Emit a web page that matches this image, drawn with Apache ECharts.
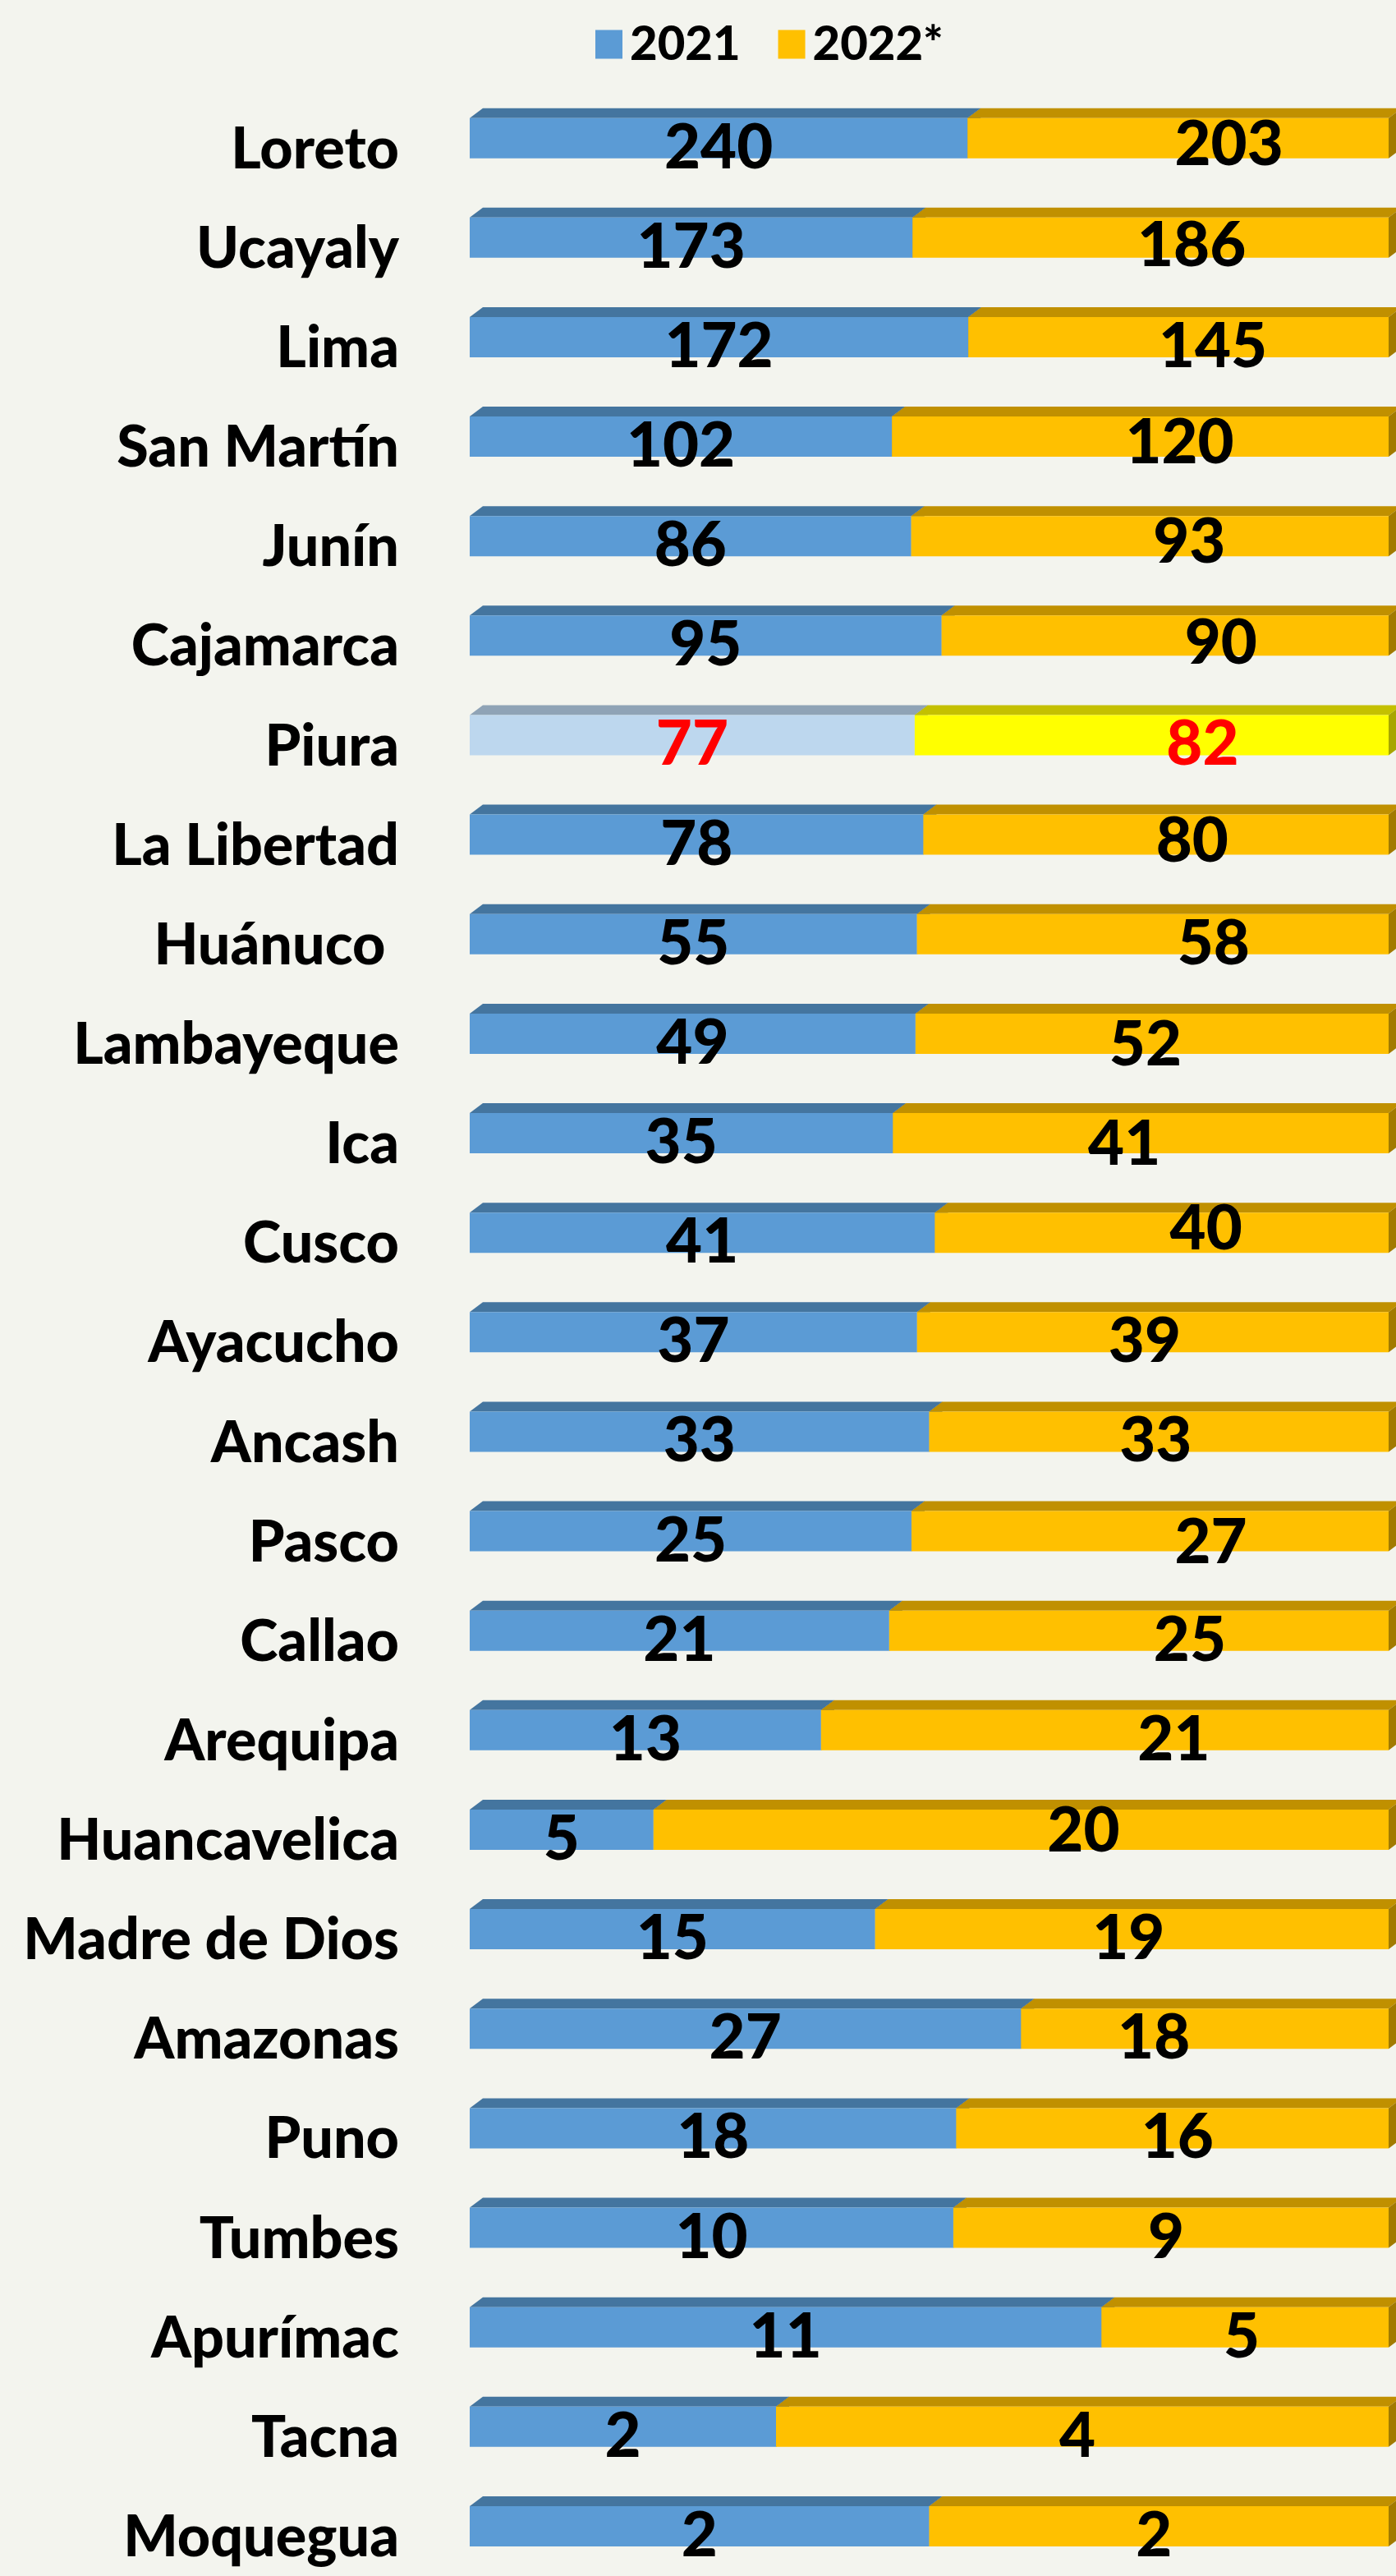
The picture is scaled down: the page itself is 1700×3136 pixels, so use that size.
<!DOCTYPE html>
<html>
<head>
<meta charset="utf-8">
<script src="https://cdn.jsdelivr.net/npm/echarts@6/dist/echarts.min.js"></script>
<style>
html,body{margin:0;padding:0;background:#F3F4EE;}
#chart{width:1700px;height:3136px;}
</style>
</head>
<body>
<div id="chart"></div>
<script>
const categories = ['Loreto','Ucayaly','Lima','San Martín','Junín','Cajamarca','Piura','La Libertad','Huánuco ','Lambayeque','Ica','Cusco','Ayacucho','Ancash','Pasco','Callao','Arequipa','Huancavelica','Madre de Dios','Amazonas','Puno','Tumbes','Apurímac','Tacna','Moquegua'];
const values2021 = [240,173,172,102,86,95,77,78,55,49,35,41,37,33,25,21,13,5,15,27,18,10,11,2,2];
const values2022 = [203,186,145,120,93,90,82,80,58,52,41,40,39,33,27,25,21,20,19,18,16,9,5,4,2];
const seriesNames = ['2021','2022*'];
const highlightCategory = 'Piura';

// style: manual label nudges (px) of the 2022* labels, as placed in the original
const labelShiftX2022 = [62,50,42,48,48,68,62,44,74,-8,-20,54,-10,-4,74,62,84,76,-4,-62,6,-6,-4,-6,-6];
const labelShiftY2022 = [-4,-2,0,-4,-4,-2,0,-4,0,2,2,-16,0,0,2,0,0,-10,0,0,0,0,0,0,0];

const FONT = 'Lato';
const BAR_H = 49, DX = 16, DY = 12;

const totals = values2021.map((v,i)=>v+values2022[i]);
const pct2021 = values2021.map((v,i)=>v/totals[i]*100);
const pct2022 = values2022.map((v,i)=>v/totals[i]*100);

const style = {
  normal: [
    {front:'#5B9BD5', top:'#44759F', side:'#3A6690'},
    {front:'#FFC000', top:'#C09000', side:'#A27A00'}
  ],
  high: [
    {front:'#BDD7EE', top:'#8FA3B6', side:'#7F93A6'},
    {front:'#FFFF00', top:'#C4C000', side:'#A8A600'}
  ]
};

function barData(s, pct, raw){
  return pct.map((p,i)=>{
    const hi = categories[i] === highlightCategory;
    const item = {value:p, raw:raw[i], label:{}};
    if (s === 1) item.label.offset = [labelShiftX2022[i], 12 + labelShiftY2022[i]];
    if (hi) {
      item.itemStyle = {color: style.high[s].front};
      item.label.color = '#FF0000';
    }
    return item;
  });
}

function faceData(s){
  return categories.map((c,i)=>{
    const start = s===0 ? 0 : pct2021[i];
    const end = s===0 ? pct2021[i] : 100;
    return [i, start, end];
  });
}

function renderFaces(s){
  return function(params, api){
    const i = api.value(0);
    const p0 = api.coord([api.value(1), i]);
    const p1 = api.coord([api.value(2), i]);
    const x0 = p0[0], x1 = p1[0], yc = p0[1];
    const top = yc - BAR_H/2, bot = yc + BAR_H/2;
    const st = categories[i] === highlightCategory ? style.high[s] : style.normal[s];
    return {
      type:'group',
      children:[
        {type:'polygon', shape:{points:[[x0,top],[x0+DX,top-DY],[x1+DX,top-DY],[x1,top]]}, style:{fill:st.top}},
        {type:'polygon', shape:{points:[[x1,top],[x1+DX,top-DY],[x1+DX,bot-DY],[x1,bot]]}, style:{fill:st.side}}
      ]
    };
  };
}

const labelStyle = {
  show:true, position:'inside', color:'#000', fontFamily:FONT, fontWeight:900, fontSize:76,
  offset:[0,12],
  formatter: p => p.data.raw
};

const chart = echarts.init(document.getElementById('chart'), null, {renderer:'canvas'});
chart.setOption({
  backgroundColor:'#F3F4EE',
  animation:false,
  legend:{
    data:seriesNames,
    left:720, top:20,
    itemWidth:33, itemHeight:35, itemGap:46,
    icon:'rect',
    textStyle:{fontFamily:FONT, fontWeight:900, fontSize:58, color:'#000', padding:[0,0,0,4]}
  },
  grid:{left:572, top:107.6, width:1119, height:3046.9, containLabel:false},
  xAxis:{type:'value', min:0, max:100, show:false},
  yAxis:{
    type:'category', data:categories, inverse:true,
    axisLine:{show:false}, axisTick:{show:false},
    axisLabel:{margin:86, fontFamily:FONT, fontWeight:900, fontSize:70, color:'#000', verticalAlign:'top', lineHeight:28}
  },
  series:[
    {type:'custom', name:'faces2021', renderItem:renderFaces(0), data:faceData(0), z:1, silent:true, encode:{x:[1,2], y:0}},
    {type:'custom', name:'faces2022', renderItem:renderFaces(1), data:faceData(1), z:1, silent:true, encode:{x:[1,2], y:0}},
    {type:'bar', name:seriesNames[0], stack:'total', barWidth:BAR_H, z:2, itemStyle:{color:style.normal[0].front}, label:labelStyle, data:barData(0,pct2021,values2021)},
    {type:'bar', name:seriesNames[1], stack:'total', barWidth:BAR_H, z:2, itemStyle:{color:style.normal[1].front}, label:labelStyle, data:barData(1,pct2022,values2022)}
  ]
});
</script>
</body>
</html>
